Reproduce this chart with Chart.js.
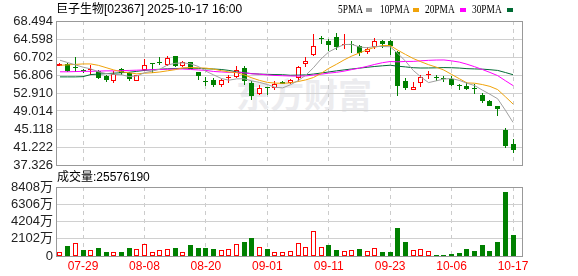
<!DOCTYPE html>
<html><head><meta charset="utf-8">
<script src="https://cdn.jsdelivr.net/npm/chart.js@4/dist/chart.umd.min.js"></script>
<style>
html,body{margin:0;padding:0;background:#fff;}
#wrap{position:relative;width:578px;height:276px;overflow:hidden;font-family:'Liberation Sans','Noto Sans CJK SC',sans-serif;}
canvas{position:absolute;left:0;top:0;}
.t{position:absolute;white-space:nowrap;line-height:14px;}
.lg{position:absolute;top:2px;font-family:'Liberation Serif',serif;font-size:12px;line-height:14px;color:#000;transform:scaleX(0.78);transform-origin:0 0;white-space:nowrap;}
.sq{position:absolute;top:8px;width:6px;height:4px;}
</style></head><body>
<div id="wrap">
  <div class="t" style="left:236px;top:74px;font-size:34px;line-height:40px;font-weight:bold;color:#ececef;font-family:'Noto Sans CJK SC';">东方财富</div>
  <canvas id="pc" width="578" height="276"></canvas>
  <canvas id="vc" width="578" height="276"></canvas>
  <div class="t" id="title" style="left:56px;top:2px;font-size:12px;color:#000;"></div>
  <div class="lg" style="left:338px;">5PMA</div><div class="sq" style="left:366px;background:#a0a0a0;"></div>
  <div class="lg" style="left:380px;">10PMA</div><div class="sq" style="left:413px;background:#f0a30a;"></div>
  <div class="lg" style="left:425px;">20PMA</div><div class="sq" style="left:460px;background:#ff00ff;"></div>
  <div class="lg" style="left:472px;">30PMA</div><div class="sq" style="left:507px;background:#006a33;"></div>
  <div class="t" id="volTitle" style="left:57px;top:170px;font-size:12px;color:#000;"></div>
</div>
<script>
// ---------------- data ----------------
const stockName = '巨子生物[02367]';
const stamp = '2025-10-17 16:00';
const dates = ['07-24','07-25','07-28','07-29','07-30','07-31','08-01','08-04','08-05','08-06',
  '08-07','08-08','08-11','08-12','08-13','08-14','08-15','08-18','08-19','08-20',
  '08-21','08-22','08-25','08-26','08-27','08-28','08-29','09-01','09-02','09-03',
  '09-04','09-05','09-08','09-09','09-10','09-11','09-12','09-15','09-16','09-17',
  '09-18','09-19','09-22','09-23','09-24','09-25','09-26','09-29','09-30','10-02',
  '10-03','10-06','10-08','10-09','10-10','10-13','10-14','10-15','10-16','10-17'];
const open = [58.8,59.25,58.3,57.8,57.95,57.58,56.65,55.42,58.1,57.24,
  55.5,57.8,59.2,59.4,59.03,60.83,58.82,59.54,57.45,55.45,
  55.79,54.7,56.1,56.37,58.3,55.07,52.76,54.0,54.0,55.35,
  55.07,56.2,59.2,61.05,64.5,64.25,65.1,63.3,63.35,63.0,
  61.7,62.8,64.23,64.23,61.7,55.42,53.47,55.07,56.8,56.35,
  56.1,55.94,54.7,54.49,53.8,52.54,51.1,50.16,44.97,41.93];
const high = [59.35,59.4,60.8,58.0,59.0,57.95,56.87,57.58,58.3,57.5,
  56.9,60.27,59.4,60.8,60.83,60.98,59.75,59.6,57.45,56.37,
  56.16,56.0,56.87,58.82,58.7,55.42,54.55,54.05,55.4,55.5,
  55.9,58.75,60.7,65.74,65.25,64.5,66.0,65.75,64.1,63.2,
  62.95,64.85,64.3,64.3,61.92,56.16,55.2,56.87,57.58,56.87,
  56.5,56.5,54.75,55.2,54.92,52.9,51.46,50.16,45.33,42.95];
const low = [58.75,57.37,57.5,57.2,56.9,55.94,55.2,55.07,56.87,55.42,
  55.4,57.58,57.24,58.9,58.82,58.6,58.54,58.0,55.7,54.49,
  54.27,54.3,55.07,56.16,54.6,51.3,52.54,52.54,53.47,54.8,
  54.9,55.5,58.6,60.92,63.58,61.9,62.2,62.4,61.57,60.9,
  61.4,62.4,62.65,61.2,52.33,53.47,53.47,54.2,55.94,55.42,
  55.2,54.34,53.47,53.6,52.76,50.75,50.0,47.99,41.0,39.92];
const close = [59.25,57.6,58.3,57.6,58.05,56.16,55.64,57.1,57.24,55.94,
  56.87,59.03,59.2,59.4,60.5,58.67,59.54,58.1,56.5,55.35,
  54.7,55.64,56.2,57.95,55.5,52.33,54.0,53.95,54.9,54.9,
  55.64,58.5,59.75,63.08,64.5,63.2,62.95,63.4,63.35,61.57,
  62.43,64.1,63.52,62.99,54.34,53.99,54.2,56.37,56.9,56.25,
  56.0,54.7,54.34,53.84,53.7,51.1,50.16,49.5,41.51,40.49];
const ma5 = [60.0,59.5,59.0,58.5,58.13,57.51,57.12,56.94,56.87,56.46,
  56.6,57.28,57.64,58.06,58.97,59.33,59.43,59.23,58.66,57.63,
  56.84,56.06,55.68,55.97,56.0,55.52,55.2,54.75,54.14,54.02,
  54.68,55.58,56.74,58.37,60.28,61.8,62.67,63.4,63.44,62.87,
  62.71,62.96,62.98,62.92,61.48,59.79,57.81,56.38,55.16,55.54,
  55.94,56.04,55.64,55.03,54.52,53.54,52.63,51.66,49.19,46.55];
const ma10 = [58.9,59.0,59.1,59.2,59.2,58.9,58.4,57.9,57.5,57.29,
  57.05,57.2,57.29,57.46,57.71,57.96,58.35,58.43,58.36,58.3,
  58.08,57.75,57.46,57.32,56.82,56.18,55.63,55.21,55.05,55.01,
  55.1,55.39,55.74,56.26,57.15,58.24,59.12,60.07,60.91,61.58,
  62.26,62.82,63.19,63.18,62.17,61.25,60.38,59.68,59.04,58.51,
  57.87,56.93,56.01,55.09,55.03,54.74,54.34,53.65,52.11,50.53];
const ma20 = [57.5,57.5,57.55,57.6,57.6,57.65,57.7,57.7,57.75,57.8,
  57.85,57.9,57.95,58.0,58.05,58.1,58.1,58.0,57.9,57.8,
  57.57,57.47,57.37,57.39,57.26,57.07,56.99,56.82,56.71,56.65,
  56.59,56.57,56.6,56.79,56.98,57.21,57.38,57.64,57.98,58.29,
  58.68,59.1,59.47,59.72,59.66,59.74,59.75,59.88,59.98,60.04,
  60.06,59.87,59.6,59.14,58.6,58.0,57.36,56.67,55.58,54.52];
const ma30 = [56.4,56.4,56.4,56.45,56.9,57.0,57.1,57.2,57.3,57.4,
  57.6,57.8,57.95,58.05,58.15,58.2,58.25,58.3,58.25,58.15,
  58.1,58.0,57.8,57.5,57.3,57.1,57.0,56.95,56.9,56.87,
  56.75,56.78,56.83,57.01,57.23,57.46,57.7,57.91,58.11,58.29,
  58.48,58.65,58.8,58.92,58.71,58.56,58.38,58.32,58.33,58.36,
  58.41,58.38,58.31,58.18,58.12,58.08,57.95,57.8,57.35,56.87];
// volume in 万 shares
const volume = [546,1193,1597,788,748,1031,546,506,546,1031,
  870,1476,465,748,870,1031,506,1395,950,950,
  910,748,910,1476,1759,2244,1112,910,465,465,
  667,1597,1152,3053,1152,1395,788,627,748,910,
  627,991,546,546,3457,1759,788,870,627,182,
  182,303,425,910,667,1395,586,1759,7824,2557.6];
// 1 = red (rise) volume bar, 0 = green
const volRise = [1,0,1,0,1,0,0,1,0,0, 1,1,1,1,1,0,1,0,0,0,
  0,1,1,1,0,0,1,0,1,1, 1,1,1,1,1,0,0,1,1,0,
  1,1,0,0,0,0,1,1,1,0, 0,0,0,0,0,0,0,0,0,0];
const lastVolume = 25576190;
const priceTicks = [37.326,41.222,45.118,49.014,52.910,56.806,60.702,64.598,68.494];
const volTicks = [0,2102,4204,6306,8408];
const tickDates = ['07-29','08-08','08-20','09-01','09-11','09-23','10-06','10-17'];

// ---------------- styling ----------------
const RED = '#ff0000', GREEN = '#008000';
const FONT = "'Liberation Sans','Noto Sans CJK SC',sans-serif";
Chart.defaults.font.family = FONT;
document.getElementById('title').textContent = stockName + ' ' + stamp;
document.getElementById('volTitle').textContent = '成交量:' + lastVolume;

const tickIdx = tickDates.map(d => dates.indexOf(d));
const idx = dates.map((d, i) => i);
const up = idx.map(i => close[i] > open[i]);

const snap = {id:'snap', beforeDatasetsDraw(chart){
  chart.data.datasets.forEach((ds, di) => {
    const meta = chart.getDatasetMeta(di);
    if (meta.type !== 'bar') return;
    meta.data.forEach(el => {
      el.x = Math.floor(el.x) + 0.5;
      let t = Math.round(Math.min(el.y, el.base)), b = Math.round(Math.max(el.y, el.base));
      if (b - t < 1) b = t + 1;
      el.y = t; el.base = b;
    });
  });
}};
const frame = {id:'frame', afterDraw(chart){
  const a = chart.chartArea, c = chart.ctx;
  c.save(); c.strokeStyle = '#999'; c.lineWidth = 1;
  c.strokeRect(Math.round(a.left)+0.5, Math.round(a.top)+0.5, Math.round(a.right-a.left), Math.round(a.bottom-a.top));
  c.restore();
}};

function xScale(showLabels){
  return {
    type:'linear', min:-0.52, max:60.17, offset:false,
    afterBuildTicks: s => { s.ticks = tickIdx.map(v => ({value:v})); },
    afterFit: s => { s.height = showLabels ? 20 : 0; },
    ticks:{display:showLabels, autoSkip:false, maxRotation:0, padding:3, color:RED,
      font:{size:12, family:FONT}, callback: v => dates[v] },
    grid:{color:'#cccccc', drawTicks:false, offset:false},
    border:{display:false, dash:[4,4]}
  };
}
function yTicks(fmt){
  return {color:'#222', padding:3, autoSkip:false, font:{size:13, family:FONT}, callback: fmt};
}

const barBase = {type:'bar', grouped:false, borderSkipped:false, inflateAmount:0, minBarLength:1};

new Chart(document.getElementById('pc'), {
  type:'bar',
  data:{ datasets:[
    {type:'line', label:'MA5', data: idx.map(i=>({x:i,y:ma5[i]})), borderColor:'#a0a0a0', borderWidth:1, pointRadius:0, order:0},
    {type:'line', label:'MA10', data: idx.map(i=>({x:i,y:ma10[i]})), borderColor:'#f0a30a', borderWidth:1, pointRadius:0, order:0},
    {type:'line', label:'MA20', data: idx.map(i=>({x:i,y:ma20[i]})), borderColor:'#ff00ff', borderWidth:1, pointRadius:0, order:0},
    {type:'line', label:'MA30', data: idx.map(i=>({x:i,y:ma30[i]})), borderColor:'#006a33', borderWidth:1, pointRadius:0, order:0},
    Object.assign({}, barBase, {label:'body', data: idx.map(i=>({x:i, y:[open[i], close[i]]})),
      barThickness:5, borderWidth:1,
      backgroundColor: idx.map(i => up[i] ? '#ffffff' : GREEN),
      borderColor: idx.map(i => up[i] ? RED : GREEN), order:1}),
    Object.assign({}, barBase, {label:'wick', data: idx.map(i=>({x:i, y:[low[i], high[i]]})),
      barThickness:1, borderWidth:0,
      backgroundColor: idx.map(i => up[i] ? RED : GREEN), order:2})
  ]},
  options:{
    responsive:false, animation:false, devicePixelRatio:1,
    layout:{padding:{left:0, right:56, top:21, bottom:111}},
    plugins:{legend:{display:false}, tooltip:{enabled:false}},
    scales:{
      x: xScale(false),
      y: {type:'linear', min:priceTicks[0], max:priceTicks[priceTicks.length-1],
        afterBuildTicks: s => { s.ticks = priceTicks.map(v => ({value:v})); },
        afterFit: s => { s.width = 56; },
        ticks: yTicks(v => Number(v).toFixed(3)),
        grid:{color:'#d0d0d0', drawTicks:false}, border:{display:false}}
    }
  },
  plugins:[snap, frame]
});

new Chart(document.getElementById('vc'), {
  type:'bar',
  data:{ datasets:[
    Object.assign({}, barBase, {label:'volume', data: idx.map(i=>({x:i, y:volume[i]})),
      barThickness:5, borderWidth:1, minBarLength:0,
      backgroundColor: idx.map(i => volRise[i] ? '#ffffff' : GREEN),
      borderColor: idx.map(i => volRise[i] ? RED : GREEN)})
  ]},
  options:{
    responsive:false, animation:false, devicePixelRatio:1,
    layout:{padding:{left:0, right:56, top:187, bottom:0}},
    plugins:{legend:{display:false}, tooltip:{enabled:false}},
    scales:{
      x: xScale(true),
      y: {type:'linear', min:volTicks[0], max:volTicks[volTicks.length-1],
        afterBuildTicks: s => { s.ticks = volTicks.map(v => ({value:v})); },
        afterFit: s => { s.width = 56; },
        ticks: yTicks(v => v === 0 ? '0' : v + '万'),
        grid:{color:'#d0d0d0', drawTicks:false}, border:{display:false}}
    }
  },
  plugins:[snap, frame]
});
</script>
</body></html>
